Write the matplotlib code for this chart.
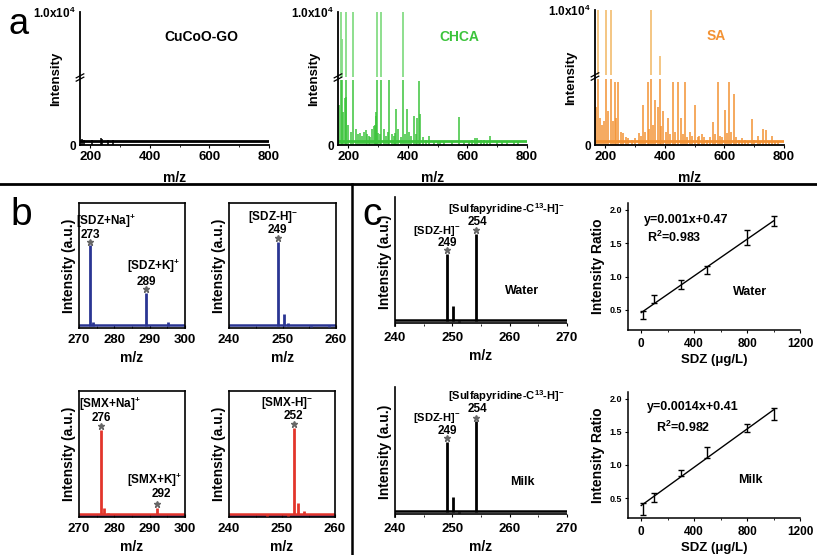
"""
MALDI spectra figure: matrix comparison (a), SDZ/SMX spectra (b),
isotope-labelled quantification in water and milk (c).
"""
import matplotlib
matplotlib.use("Agg")
import matplotlib.pyplot as plt
from matplotlib.lines import Line2D
import numpy as np

plt.rcParams["font.family"] = ["Liberation Sans", "DejaVu Sans"]
plt.rcParams["font.weight"] = "bold"
plt.rcParams["axes.labelweight"] = "bold"
plt.rcParams["mathtext.fontset"] = "custom"
plt.rcParams["mathtext.rm"] = "Liberation Sans:bold"
plt.rcParams["mathtext.bf"] = "Liberation Sans:bold"
plt.rcParams["mathtext.it"] = "Liberation Sans:bold"

W, H = 817, 555

# ---- panel a: background peaks (m/z, height; 0.5 = axis break, 1.0 = off scale) ----
cucoo_mz = [172, 180, 205, 235, 240, 258, 275]
cucoo_h = [0.045, 0.04, 0.04, 0.055, 0.045, 0.035, 0.04]

chca_mz = [170, 174, 178, 183, 188, 191, 193, 200, 208, 215, 224, 232, 240, 246, 252,
           258, 263, 270, 274, 280, 286, 288, 291, 293, 295, 300, 305, 310, 318, 326,
           333, 337, 345, 352, 358, 361, 368, 375, 382, 390, 397, 405, 410, 419, 427,
           432, 436, 441, 452, 462, 470, 487, 500, 509, 520, 548, 571, 590, 605, 615,
           625, 632, 645, 655, 665, 677, 700, 715, 733, 755, 770]
chca_h = [0.30, 1.0, 0.80, 0.25, 0.35, 0.36, 1.0, 0.15, 0.10, 1.0, 0.12, 0.08, 0.09, 0.07, 0.10,
          0.11, 0.08, 0.07, 0.06, 0.12, 0.14, 0.15, 0.22, 0.25, 1.0, 0.09, 0.08, 1.0, 0.12, 0.07,
          0.10, 0.50, 0.08, 0.07, 0.09, 0.27, 0.12, 0.06, 1.0, 0.08, 0.27, 0.10, 0.07, 0.22, 0.08,
          0.20, 0.48, 0.23, 0.06, 0.04, 0.07, 0.02, 0.03, 0.03, 0.03, 0.02, 0.21, 0.03, 0.03, 0.04,
          0.05, 0.05, 0.04, 0.04, 0.03, 0.07, 0.03, 0.02, 0.02, 0.02, 0.02]

sa_mz = [166, 169, 174, 182, 190, 196, 202, 210, 219, 226, 231, 237, 243, 252, 260,
         268, 275, 289, 300, 314, 320, 327, 334, 342, 348, 353, 360, 367, 376, 382,
         388, 395, 402, 410, 418, 427, 435, 444, 453, 460, 467, 475, 484, 492, 501,
         510, 516, 524, 532, 541, 550, 560, 568, 577, 585, 592, 601, 608, 615, 623,
         632, 640, 650, 660, 670, 680, 691, 700, 711, 720, 731, 740, 750, 759, 770, 780]
sa_h = [0.47, 0.28, 1.0, 0.20, 0.15, 0.18, 1.0, 0.25, 1.0, 0.18, 0.47, 0.20, 0.47, 0.10, 0.09,
        0.06, 0.05, 0.04, 0.05, 0.09, 0.07, 0.30, 0.10, 0.47, 0.12, 1.0, 0.15, 0.33, 0.28, 0.66,
        0.14, 0.25, 0.10, 0.20, 0.08, 0.47, 0.10, 0.47, 0.20, 0.08, 0.47, 0.06, 0.10, 0.07, 0.30,
        0.06, 0.07, 0.08, 0.06, 0.04, 0.06, 0.17, 0.08, 0.47, 0.07, 0.06, 0.26, 0.09, 0.47, 0.10,
        0.38, 0.06, 0.04, 0.05, 0.04, 0.03, 0.19, 0.04, 0.07, 0.03, 0.12, 0.11, 0.03, 0.07, 0.03, 0.02]

# ---- panel b: analyte spectra ----
sdz_pos_mz = [273.0, 274.1, 289.0, 290.5, 291.3, 295.2]
sdz_pos_h = [0.66, 0.05, 0.28, 0.02, 0.02, 0.05]
sdz_neg_mz = [247.1, 248.1, 249.1, 250.2, 251.1, 255.4, 258.6]
sdz_neg_h = [0.02, 0.015, 0.69, 0.11, 0.04, 0.01, 0.01]
smx_pos_mz = [276.2, 277.2, 278.1, 292.2]
smx_pos_h = [0.69, 0.07, 0.03, 0.07]
smx_neg_mz = [247.2, 251.2, 252.2, 253.1, 254.1]
smx_neg_h = [0.01, 0.01, 0.71, 0.11, 0.05]

# ---- panel c: SDZ with labelled sulfapyridine internal standard ----
water_mz = [249.1, 250.2, 251.1, 254.2, 255.2]
water_h = [0.55, 0.14, 0.01, 0.71, 0.02]
milk_mz = [249.1, 250.2, 251.1, 254.2, 255.2]
milk_h = [0.57, 0.14, 0.01, 0.73, 0.02]

conc = [10, 100, 300, 500, 800, 1000]
water_ratio = [0.43, 0.66, 0.88, 1.10, 1.58, 1.83]
water_err = [0.06, 0.06, 0.07, 0.06, 0.11, 0.08]
milk_ratio = [0.34, 0.51, 0.88, 1.19, 1.55, 1.77]
milk_err = [0.09, 0.07, 0.05, 0.08, 0.06, 0.09]

BLUE = "#2a3593"
RED = "#e2352b"
GREEN = "#3cc43c"
GREEN_LIGHT = "#86dc86"
ORANGE = "#f39233"
ORANGE_LIGHT = "#f3c27a"


def add_ax(fig, left, top, right, bottom):
    # pixel box -> figure fraction
    return fig.add_axes([left / W, 1 - bottom / H, (right - left) / W, (bottom - top) / H])


def matrix_panel(ax, mz, h, color, light, name):
    mz = np.array(mz)
    h = np.array(h)
    ax.axhline(0.03, color=color, lw=2, zorder=1)
    ax.vlines(mz, 0.0, np.minimum(h, 0.49), color=color, lw=1.1)
    tall = h > 0.51
    ax.vlines(mz[tall], 0.515, h[tall], color=light, lw=1.3)
    ax.set_xlim(165, 800)
    ax.set_ylim(0, 1.0)
    ax.set_xticks([200, 400, 600, 800])
    ax.set_xticks([300, 500, 700], minor=True)
    ax.set_yticks([0, 1.0])
    ax.set_yticklabels(["0", "1.0x10$^{4}$"])
    ax.tick_params(axis="x", direction="out", length=2, labelsize=9.5, pad=2)
    ax.tick_params(axis="x", which="minor", direction="out", length=1.5)
    ax.tick_params(axis="y", length=0, labelsize=8.5, pad=3)
    for s in ["top", "right"]:
        ax.spines[s].set_visible(False)
    ax.spines["left"].set_linewidth(1.3)
    ax.spines["bottom"].set_linewidth(1.3)
    ax.set_xlabel("m/z", fontsize=10, labelpad=6)
    ax.set_ylabel("Intensity", fontsize=9.5)
    ax.yaxis.set_label_coords(-0.095, 0.5)
    # axis break mark
    for dy in (0.0, 0.025):
        ax.plot([-0.02, 0.02], [0.48 + dy, 0.51 + dy], transform=ax.transAxes,
                color="black", lw=0.9, clip_on=False, zorder=5)
    ax.text(0.64, 0.78, name, transform=ax.transAxes, fontsize=10, ha="center",
            color=color)


def stick_panel(ax, mz, h, color, xlim, xticks, minor, base_under=None):
    if base_under is not None:
        ax.axhline(0.005, color=base_under, lw=1.5, zorder=1)
    ax.axhline(0.025, color=color, lw=1.8, zorder=2)
    ax.vlines(mz, 0.02, h, color=color, lw=2, zorder=3)
    ax.set_xlim(*xlim)
    ax.set_ylim(0, 1)
    ax.set_xticks(xticks)
    ax.set_xticks(minor, minor=True)
    ax.set_yticks([])
    ax.tick_params(axis="x", direction="in", length=2.5, labelsize=9.5, pad=4)
    ax.tick_params(axis="x", which="minor", direction="in", length=1.5)
    ax.set_xlabel("m/z", fontsize=10, labelpad=4)
    ax.set_ylabel("Intensity (a.u.)", fontsize=10, labelpad=2)
    for s in ax.spines.values():
        s.set_linewidth(1.2)


def star(ax, x, y):
    ax.plot(x, y + 0.03, marker="*", color="#666666", ms=4.5, zorder=4)


def label(ax, x, y, text, size=8.5):
    ax.text(x, y, text, transform=ax.get_xaxis_transform(), ha="center", va="center",
            fontsize=size)


def calib_panel(ax, x, y, err, eq, r2, matrix_name, eq_xy, r2_xy):
    ax.errorbar(x, y, yerr=err, fmt="none", ecolor="black", elinewidth=1, capsize=2,
                capthick=1)
    slope, icpt = np.polyfit(x, y, 1)
    xx = np.array([0, 1000])
    ax.plot(xx, slope * xx + icpt, color="black", lw=1)
    ax.set_xlim(-100, 1200)
    ax.set_ylim(0.2, 2.1)
    ax.set_xticks([0, 400, 800, 1200])
    ax.set_xticks([200, 600, 1000], minor=True)
    ax.set_yticks([0.5, 1.0, 1.5, 2.0])
    ax.set_yticklabels(["0.5", "1.0", "1.5", "2.0"])
    ax.tick_params(axis="x", direction="out", length=2.5, labelsize=8.5, pad=3)
    ax.tick_params(axis="x", which="minor", direction="out", length=1.5)
    ax.tick_params(axis="y", direction="out", length=2.5, labelsize=6.5, pad=2)
    for s in ["top", "right"]:
        ax.spines[s].set_visible(False)
    ax.spines["left"].set_linewidth(1.1)
    ax.spines["bottom"].set_linewidth(1.1)
    ax.set_xlabel("SDZ (\u03bcg/L)", fontsize=9.5, labelpad=3)
    ax.set_ylabel("Intensity Ratio", fontsize=10, labelpad=3)
    ax.text(eq_xy[0], eq_xy[1], eq, transform=ax.transAxes, fontsize=9, va="center")
    ax.text(r2_xy[0], r2_xy[1], r2, transform=ax.transAxes, fontsize=9, va="center")
    ax.text(0.71, 0.30, matrix_name, transform=ax.transAxes, fontsize=9, ha="center",
            va="center")


def sdz_standard_panel(ax, mz, h, matrix_name, ys):
    stick_panel(ax, mz, h, "black", (240, 270), [240, 250, 260, 270], [245, 255, 265])
    ax.axhline(0.0, color="black", lw=1.2)
    for s in ["top", "right"]:
        ax.spines[s].set_visible(False)
    ax.spines["bottom"].set_visible(False)
    ax.set_ylim(-0.02, 1)
    star(ax, mz[0], h[0])
    star(ax, mz[3], h[3])
    label(ax, 259.5, ys[0], "[Sulfapyridine-C$^{13}$-H]$^{-}$", size=8)
    label(ax, 254.3, ys[1], "254", size=8.5)
    label(ax, 247.3, ys[2], "[SDZ-H]$^{-}$", size=8)
    label(ax, 249.2, ys[3], "249", size=8.5)
    ax.text(0.74, 0.27, matrix_name, transform=ax.transAxes, fontsize=9, ha="center",
            va="center")


fig = plt.figure(figsize=(W / 100, H / 100), dpi=100)

# ---------------- panel a ----------------
a1 = add_ax(fig, 80, 12, 269, 145)
matrix_panel(a1, cucoo_mz, cucoo_h, "black", "black", "CuCoO-GO")
a2 = add_ax(fig, 338, 12, 527, 145)
matrix_panel(a2, chca_mz, chca_h, GREEN, GREEN_LIGHT, "CHCA")
a3 = add_ax(fig, 595, 10, 784, 145)
matrix_panel(a3, sa_mz, sa_h, ORANGE, ORANGE_LIGHT, "SA")

# ---------------- panel b ----------------
b1 = add_ax(fig, 79, 203, 185, 328)
stick_panel(b1, sdz_pos_mz, sdz_pos_h, BLUE, (270, 300), [270, 280, 290, 300], [275, 285, 295])
star(b1, 273.0, 0.66)
star(b1, 289.0, 0.28)
label(b1, 277.5, 0.855, "[SDZ+Na]$^{+}$")
label(b1, 273.2, 0.74, "273")
label(b1, 291.2, 0.49, "[SDZ+K]$^{+}$")
label(b1, 289.0, 0.37, "289")

b2 = add_ax(fig, 229, 203, 336, 328)
stick_panel(b2, sdz_neg_mz, sdz_neg_h, BLUE, (240, 260), [240, 250, 260], [245, 255])
star(b2, 249.1, 0.69)
label(b2, 248.3, 0.885, "[SDZ-H]$^{-}$")
label(b2, 249.1, 0.78, "249")

b3 = add_ax(fig, 79, 391, 185, 517)
stick_panel(b3, smx_pos_mz, smx_pos_h, RED, (270, 300), [270, 280, 290, 300], [275, 285, 295],
            base_under=BLUE)
star(b3, 276.2, 0.69)
star(b3, 292.2, 0.07)
label(b3, 278.8, 0.895, "[SMX+Na]$^{+}$")
label(b3, 276.2, 0.785, "276")
label(b3, 291.5, 0.29, "[SMX+K]$^{+}$")
label(b3, 293.3, 0.18, "292")

b4 = add_ax(fig, 229, 391, 335, 517)
stick_panel(b4, smx_neg_mz, smx_neg_h, RED, (240, 260), [240, 250, 260], [245, 255],
            base_under=BLUE)
star(b4, 252.2, 0.71)
label(b4, 250.9, 0.905, "[SMX-H]$^{-}$")
label(b4, 252.2, 0.80, "252")

# ---------------- panel c ----------------
c1 = add_ax(fig, 395, 197, 567, 326)
sdz_standard_panel(c1, water_mz, water_h, "Water", [0.91, 0.81, 0.735, 0.64])
c2 = add_ax(fig, 628, 203, 800, 330)
calib_panel(c2, conc, water_ratio, water_err, "y=0.001x+0.47", "R$^{2}$=0.983", "Water",
            (0.09, 0.87), (0.11, 0.73))
c3 = add_ax(fig, 395, 387, 567, 517)
sdz_standard_panel(c3, milk_mz, milk_h, "Milk", [0.93, 0.83, 0.765, 0.665])
c4 = add_ax(fig, 628, 392, 800, 518)
calib_panel(c4, conc, milk_ratio, milk_err, "y=0.0014x+0.41", "R$^{2}$=0.982", "Milk",
            (0.11, 0.88), (0.16, 0.72))

# separators and panel letters
fig.add_artist(Line2D([0, 1], [1 - 184 / H, 1 - 184 / H], color="black", lw=2))
fig.add_artist(Line2D([352 / W, 352 / W], [0, 1 - 184 / H], color="black", lw=1.8))
fig.text(8 / W, 1 - 25 / H, "a", fontsize=26, fontweight="normal", va="center")
fig.text(10 / W, 1 - 215 / H, "b", fontsize=28, fontweight="normal", va="center")
fig.text(362 / W, 1 - 215 / H, "c", fontsize=28, fontweight="normal", va="center")

fig.savefig("out.png", dpi=100)
plt.close(fig)
